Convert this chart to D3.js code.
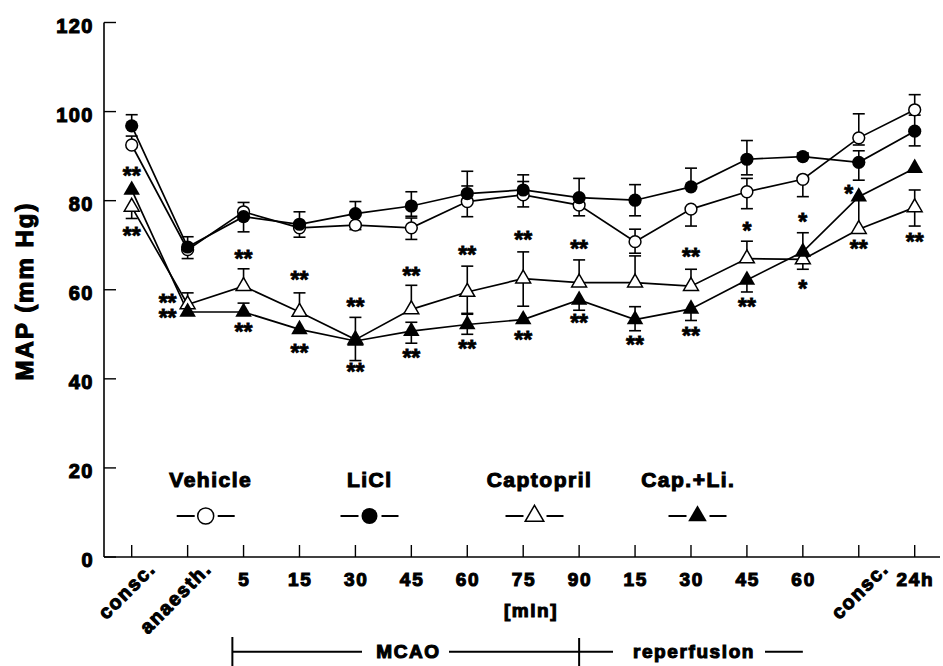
<!DOCTYPE html>
<html>
<head>
<meta charset="utf-8">
<script src="https://cdn.jsdelivr.net/npm/d3@7"></script>
<style>
  html, body { margin: 0; padding: 0; background: #fff; }
  svg text { font-family: "Liberation Sans", Arial, sans-serif; font-weight: bold; fill: #000; stroke: #000; stroke-width: 1.1px; }
</style>
</head>
<body>
<svg id="chart" width="943" height="666"></svg>
<script>
// ---------- data ----------
const categories = ["consc.", "anaesth.", "5", "15", "30", "45", "60", "75", "90", "15", "30", "45", "60", "consc.", "24h"];
const rotatedLabels = [0, 1, 13];
const yTicks = [0, 20, 40, 60, 80, 100, 120];

const vehicle        = [92.5, 69.0, 77.5, 73.9, 74.5, 73.9, 79.8, 81.3, 79.0, 70.8, 78.1, 82.0, 84.8, 94.1, 100.4];
const vehicleErrUp   = [2.0, 0, 2.1, 0, 0, 2.2, 3.5, 3.0, 0, 2.8, 0, 3.0, 0, 5.4, 3.4];
const vehicleErrDown = [0, 2.0, 0, 2.1, 1.0, 2.6, 3.4, 2.7, 2.4, 2.6, 3.8, 3.8, 3.9, 1.6, 0];

const licl           = [96.8, 69.6, 76.4, 74.7, 77.1, 78.8, 81.6, 82.4, 80.7, 80.1, 83.1, 89.3, 89.9, 88.6, 95.6];
const liclErrUp      = [2.5, 2.3, 0, 2.8, 2.7, 3.2, 5.0, 3.4, 4.3, 3.5, 4.2, 4.2, 0.8, 2.6, 3.6];
const liclErrDown    = [0, 0, 3.4, 0, 0, 2.3, 0, 0, 0, 3.5, 0, 3.5, 0, 4.0, 3.3];

const captopril      = [78.6, 56.7, 60.8, 55.0, 48.8, 55.6, 59.5, 62.5, 61.6, 61.6, 60.8, 67.0, 66.8, 73.6, 78.5];
const captErrUp      = [0, 2.6, 3.9, 4.3, 5.0, 5.4, 5.8, 6.0, 5.1, 6.0, 3.8, 3.9, 0, 6.5, 3.9];
const captErrDown    = [2.6, 0, 0, 0, 0, 0, 5.0, 6.2, 0, 0, 0, 0, 2.2, 0, 4.2];

const capLi          = [82.4, 55.0, 55.0, 51.1, 48.5, 50.7, 52.2, 53.3, 57.7, 53.3, 55.7, 62.2, 68.5, 80.9, 87.3];
const capLiErrUp     = [0, 0, 2.0, 0, 0, 2.0, 2.5, 0, 0, 2.9, 0, 0, 4.3, 0, 0];
const capLiErrDown   = [0, 0, 0, 0, 4.4, 2.7, 2.2, 0, 2.3, 2.5, 2.6, 2.7, 0, 0, 0];

// significance marks: [category index, value level, text, side]
const stars = [
  [0, 86.7, "**", "c"], [0, 73.2, "**", "c"],
  [1, 58.2, "**", "l"], [1, 54.8, "**", "l"],
  [2, 68.0, "**", "c"], [2, 51.5, "**", "c"],
  [3, 63.3, "**", "c"], [3, 46.9, "**", "c"],
  [4, 57.1, "**", "c"], [4, 42.5, "**", "c"],
  [5, 64.1, "**", "c"], [5, 45.7, "**", "c"],
  [6, 68.9, "**", "c"], [6, 47.8, "**", "c"],
  [7, 72.3, "**", "c"], [7, 49.8, "**", "c"],
  [8, 70.3, "**", "c"], [8, 53.6, "**", "c"],
  [9, 48.6, "**", "c"],
  [10, 68.4, "**", "c"], [10, 50.8, "**", "c"],
  [11, 74.2, "*", "c"], [11, 57.1, "**", "c"],
  [12, 76.2, "*", "c"], [12, 61.3, "*", "c"],
  [13, 82.6, "*", "s"], [13, 70.2, "**", "c"],
  [14, 71.7, "**", "c"]
];

const seriesNames = ["Vehicle", "LiCl", "Captopril", "Cap.+Li."];

// ---------- layout ----------
const svg = d3.select("#chart");
const x = d3.scaleLinear().domain([0, categories.length - 1]).range([131.7, 914.7]);
const y = d3.scaleLinear().domain([0, 120]).range([557, 22.5]);
const axisX = 104;

const series = [
  {name: seriesNames[0], v: vehicle,   up: vehicleErrUp, dn: vehicleErrDown, shape: "circle",   filled: false},
  {name: seriesNames[2], v: captopril, up: captErrUp,    dn: captErrDown,    shape: "triangle", filled: false},
  {name: seriesNames[1], v: licl,      up: liclErrUp,    dn: liclErrDown,    shape: "circle",   filled: true},
  {name: seriesNames[3], v: capLi,     up: capLiErrUp,   dn: capLiErrDown,   shape: "triangle", filled: true}
];

// ---------- axes ----------
const g = svg.append("g");
g.append("line").attr("x1", axisX).attr("x2", axisX).attr("y1", y(120)).attr("y2", y(0))
  .attr("stroke", "#000").attr("stroke-width", 1.6);
g.append("line").attr("x1", axisX).attr("x2", 940).attr("y1", y(0)).attr("y2", y(0))
  .attr("stroke", "#000").attr("stroke-width", 1.6);

yTicks.forEach(t => {
  g.append("line").attr("x1", axisX).attr("x2", axisX + 12).attr("y1", y(t)).attr("y2", y(t))
    .attr("stroke", "#000").attr("stroke-width", 1.4);
  g.append("text").attr("x", 94).attr("y", y(t) + 10.2).attr("text-anchor", "end")
    .style("font-size", "20px").style("letter-spacing", "1.5px").text(t);
});

categories.forEach((c, i) => {
  g.append("line").attr("x1", x(i)).attr("x2", x(i)).attr("y1", y(0)).attr("y2", y(0) - 12)
    .attr("stroke", "#000").attr("stroke-width", 1.4);
  if (rotatedLabels.includes(i)) {
    const ax = x(i) + (i === 13 ? 31 : 25), ay = 570;
    g.append("text").attr("transform", `translate(${ax},${ay}) rotate(-45)`)
      .attr("text-anchor", "end").style("font-size", "19.5px").style("letter-spacing", "1.6px").text(c);
  } else {
    g.append("text").attr("x", x(i) + 0.8).attr("y", 585.5).attr("text-anchor", "middle")
      .style("font-size", "19px").style("letter-spacing", "1.7px").text(c);
  }
});

g.append("text").attr("x", 531).attr("y", 617).attr("text-anchor", "middle")
  .style("font-size", "19px").style("letter-spacing", "1.5px").text("[min]");

g.append("text").attr("transform", "translate(33,291) rotate(-90)").attr("text-anchor", "middle")
  .style("font-size", "24px").style("letter-spacing", "2px").text("MAP (mm Hg)");

// MCAO / reperfusion bracket
const bY = 651.7;
const bk = svg.append("g").attr("stroke", "#000").attr("stroke-width", 2);
bk.append("line").attr("x1", x(1.8)).attr("x2", x(1.8)).attr("y1", 637).attr("y2", 666);
bk.append("line").attr("x1", x(1.8)).attr("x2", 362).attr("y1", bY).attr("y2", bY);
bk.append("line").attr("x1", 449).attr("x2", 613).attr("y1", bY).attr("y2", bY);
bk.append("line").attr("x1", x(8)).attr("x2", x(8)).attr("y1", 638).attr("y2", 666);
bk.append("line").attr("x1", 765).attr("x2", x(12)).attr("y1", bY).attr("y2", bY);
svg.append("text").attr("x", 408.5).attr("y", 658).attr("text-anchor", "middle")
  .style("font-size", "19px").style("letter-spacing", "1.6px").text("MCAO");
svg.append("text").attr("x", 694).attr("y", 658).attr("text-anchor", "middle")
  .style("font-size", "19px").style("letter-spacing", "1.6px").text("reperfusion");

// ---------- data lines & error bars ----------
const line = d3.line().x((d, i) => x(i)).y(d => y(d));
series.forEach(s => {
  svg.append("path").attr("d", line(s.v)).attr("fill", "none")
    .attr("stroke", "#000").attr("stroke-width", 1.7);
});
series.forEach(s => {
  s.v.forEach((v, i) => {
    [[s.up[i], 1], [s.dn[i], -1]].forEach(([e, dir]) => {
      if (!e) return;
      const yy = y(v + dir * e);
      svg.append("line").attr("x1", x(i)).attr("x2", x(i)).attr("y1", y(v)).attr("y2", yy)
        .attr("stroke", "#000").attr("stroke-width", 1.6);
      svg.append("line").attr("x1", x(i) - 6).attr("x2", x(i) + 6).attr("y1", yy).attr("y2", yy)
        .attr("stroke", "#000").attr("stroke-width", 1.6);
    });
  });
});

// ---------- markers ----------
function marker(sel, shape, filled, cx, cy, big) {
  if (shape === "circle") {
    sel.append("circle").attr("cx", cx).attr("cy", cy).attr("r", big ? 8 : (filled ? 6.6 : 5.9))
      .attr("fill", filled ? "#000" : "#fff").attr("stroke", "#000").attr("stroke-width", filled ? 0 : 1.5);
  } else {
    sel.append("path").attr("transform", `translate(${cx},${cy})`)
      .attr("d", d3.symbol().type(d3.symbolTriangle).size(big ? 150 : (filled ? 118 : 96))())
      .attr("fill", filled ? "#000" : "#fff").attr("stroke", "#000").attr("stroke-width", filled ? 0 : 1.5);
  }
}
series.forEach(s => {
  s.v.forEach((v, i) => marker(svg, s.shape, s.filled, x(i), y(v), false));
});

// ---------- significance stars ----------
stars.forEach(([i, lvl, txt, side]) => {
  const dx = side === "l" ? -20 : side === "s" ? -10 : 0;
  svg.append("text").attr("x", x(i) + dx).attr("y", y(lvl) + 12.8).attr("text-anchor", "middle")
    .style("font-size", "23px").style("stroke-width", "0.8px").text(txt);
});

// ---------- legend ----------
const legend = [
  {name: seriesNames[0], tx: 210,   sx: 205.7, shape: "circle",   filled: false},
  {name: seriesNames[1], tx: 369,   sx: 369.5, shape: "circle",   filled: true},
  {name: seriesNames[2], tx: 538.7, sx: 534.5, shape: "triangle", filled: false},
  {name: seriesNames[3], tx: 687.5, sx: 697.5, shape: "triangle", filled: true}
];
legend.forEach(l => {
  svg.append("text").attr("x", l.tx + 0.8).attr("y", 487.3).attr("text-anchor", "middle")
    .style("font-size", "21px").style("letter-spacing", "1.5px").text(l.name);
  svg.append("line").attr("x1", l.sx - 29).attr("x2", l.sx - 11).attr("y1", 516).attr("y2", 516)
    .attr("stroke", "#000").attr("stroke-width", 2);
  svg.append("line").attr("x1", l.sx + 12).attr("x2", l.sx + 29).attr("y1", 516).attr("y2", 516)
    .attr("stroke", "#000").attr("stroke-width", 2);
  marker(svg, l.shape, l.filled, l.sx, 516, true);
});
</script>
</body>
</html>
